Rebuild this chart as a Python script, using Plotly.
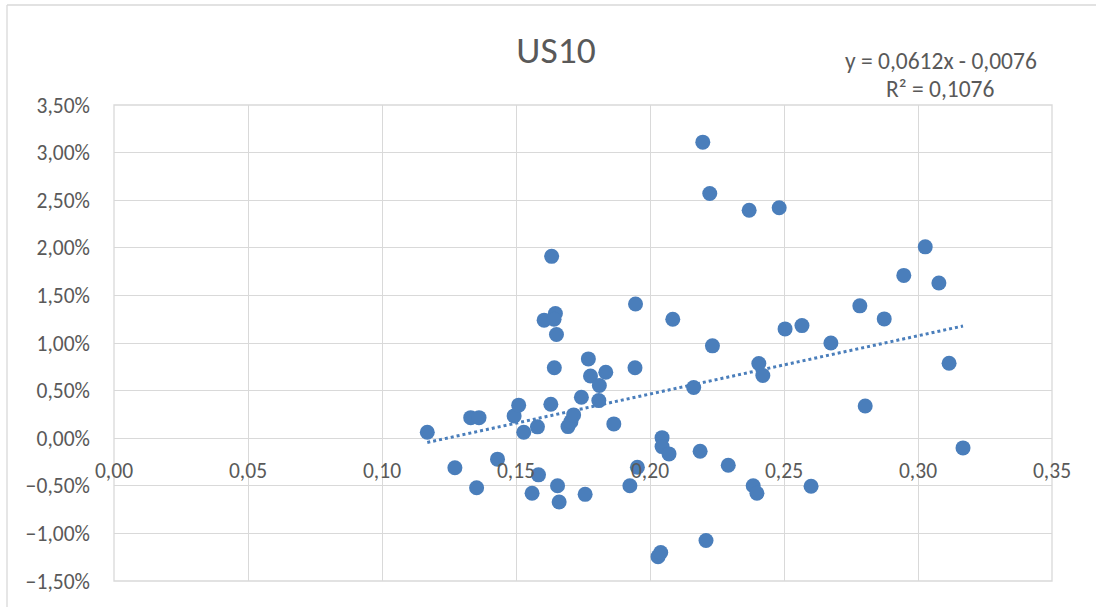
import plotly.graph_objects as go
import numpy as np

# Data
x_vals = [0.1169, 0.1272, 0.1331, 0.1362, 0.1353, 0.1431, 0.1493, 0.1510, 0.1529, 0.1580,
          0.1584, 0.1560, 0.1605, 0.1647, 0.1642, 0.1651, 0.1643, 0.1630, 0.1633, 0.1655,
          0.1661, 0.1694, 0.1705, 0.1715, 0.1744, 0.1770, 0.1778, 0.1835, 0.1811, 0.1809,
          0.1865, 0.1758, 0.1946, 0.1944, 0.1925, 0.1953, 0.2045, 0.2045, 0.2071, 0.2085,
          0.2030, 0.2040, 0.2163, 0.2187, 0.2197, 0.2209, 0.2223, 0.2233, 0.2292, 0.2370,
          0.2385, 0.2399, 0.2406, 0.2421, 0.2482, 0.2504, 0.2567, 0.2601, 0.2675, 0.2783,
          0.2803, 0.2874, 0.2947, 0.3027, 0.3078, 0.3116, 0.3168]
y_pct = [0.063, -0.31, 0.216, 0.216, -0.52, -0.22, 0.234, 0.347, 0.063, 0.119,
         -0.385, -0.578, 1.24, 1.31, 1.25, 1.09, 0.74, 0.357, 1.91, -0.50,
         -0.67, 0.122, 0.174, 0.245, 0.43, 0.833, 0.654, 0.693, 0.553, 0.395,
         0.15, -0.59, 1.41, 0.74, -0.50, -0.305, 0.006, -0.088, -0.165, 1.25,
         -1.244, -1.20, 0.532, -0.137, 3.11, -1.075, 2.57, 0.97, -0.284, 2.395,
         -0.50, -0.578, 0.784, 0.658, 2.42, 1.148, 1.183, -0.504, 1.00, 1.39,
         0.339, 1.253, 1.71, 2.01, 1.63, 0.788, -0.102]
y_vals = [v / 100 for v in y_pct]

# Trendline from the chart's equation label
slope = 0.0612
intercept = -0.0076
r_squared = 0.1076

x_ticks = [0.00, 0.05, 0.10, 0.15, 0.20, 0.25, 0.30, 0.35]
y_ticks = [-0.015, -0.01, -0.005, 0.0, 0.005, 0.01, 0.015, 0.02, 0.025, 0.03, 0.035]

FONT = "Calibri, Carlito, Liberation Sans, Noto Sans, sans-serif"
TXT = "#595959"
GRID = "#D9D9D9"
BLUE = "#4A7EBB"

trend_x = np.array([min(x_vals), max(x_vals)])
trend_y = slope * trend_x + intercept

fig = go.Figure()
fig.add_trace(go.Scatter(x=trend_x, y=trend_y, mode="lines",
                         line=dict(color=BLUE, width=3, dash="dot"),
                         hoverinfo="skip", showlegend=False))
fig.add_trace(go.Scatter(x=x_vals, y=y_vals, mode="markers",
                         marker=dict(color=BLUE, size=15, line=dict(width=0)),
                         showlegend=False))

W, H = 1096, 607
L, R, T, B = 114, 44, 105, 26
pw, ph = W - L - R, H - T - B

def px_x(p):
    return (p - L) / pw

def px_y(p):
    return 1 - (p - T) / ph

fig.update_layout(
    width=W, height=H,
    margin=dict(l=L, r=R, t=T, b=B),
    paper_bgcolor="white", plot_bgcolor="white",
    separators=",.",
    font=dict(family=FONT, color=TXT, size=21),
    title=dict(text="US10", x=556 / W, xanchor="center", y=1 - 50 / H, yanchor="middle",
               font=dict(size=37.5, color=TXT, family=FONT)),
    xaxis=dict(range=[0, 0.35], tickvals=x_ticks, tickformat=".2f",
               showgrid=True, gridcolor=GRID, gridwidth=1.3,
               zeroline=False, showline=False, ticks="",
               anchor="free", position=0.3, ticklabelstandoff=17,
               tickfont=dict(size=21.5, color=TXT)),
    yaxis=dict(range=[-0.015, 0.035], tickvals=y_ticks, tickformat=".2%",
               showgrid=True, gridcolor=GRID, gridwidth=1.3,
               zeroline=False, showline=False, ticks="", ticklabelstandoff=23,
               tickfont=dict(size=21.5, color=TXT)),
    annotations=[
        dict(text="y = 0,0612x - 0,0076", xref="paper", yref="paper",
             x=px_x(941), y=px_y(61), xanchor="center", yanchor="middle",
             showarrow=False, font=dict(size=23.5, color=TXT, family=FONT)),
        dict(text="R² = 0,1076", xref="paper", yref="paper",
             x=px_x(940), y=px_y(89), xanchor="center", yanchor="middle",
             showarrow=False, font=dict(size=23.5, color=TXT, family=FONT)),
    ],
    shapes=[
        dict(type="rect", xref="paper", yref="paper", x0=0, x1=1, y0=0, y1=1,
             line=dict(color=GRID, width=1.3), layer="below"),
        dict(type="line", xref="paper", yref="paper", x0=px_x(7), x1=px_x(1100),
             y0=px_y(5), y1=px_y(5), line=dict(color=GRID, width=1.3)),
        dict(type="line", xref="paper", yref="paper", x0=px_x(7), x1=px_x(7),
             y0=px_y(5), y1=px_y(610), line=dict(color=GRID, width=1.3)),
    ],
)

fig.write_html("out.html", config={"displayModeBar": False},
               post_script="document.body.style.margin='0';")
